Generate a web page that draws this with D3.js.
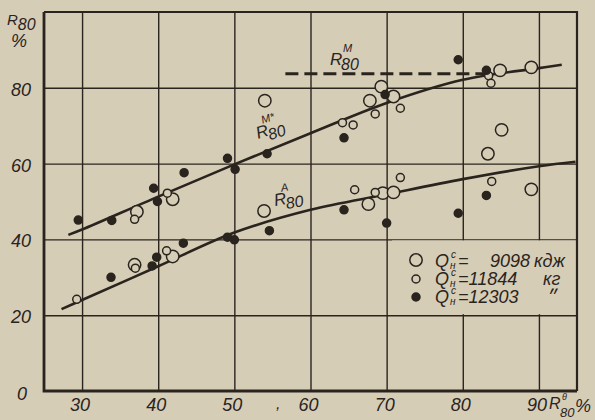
<!DOCTYPE html>
<html>
<head>
<meta charset="utf-8">
<script src="https://d3js.org/d3.v7.min.js"></script>
<style>
body { margin: 0; background: #d6cdb7; }
svg text {
	font-family: "Liberation Sans", Arial, sans-serif;
	font-style: italic;
	fill: #2a241e;
}
.grid line { stroke: #2a241e; stroke-width: 1.4; }
.grid path { display: none; }
</style>
</head>
<body>
<svg id="chart" width="595" height="420"></svg>
<script>
// R80^θ (x) vs R80 (y), read from the plate
var xTicks = [30, 40, 50, 60, 70, 80, 90],
	yTicks = [0, 20, 40, 60, 80];

// Q = 9098 (large open circles)
var bigOpenM = [[37.2,47.3],[41.9,50.6],[54.0,76.6],[67.8,76.6],[69.3,80.3],[70.9,77.7],[84.9,84.6],[89.0,85.4],[85.1,68.9],[83.3,62.6]],
	bigOpenA = [[36.9,33.3],[41.9,35.5],[53.9,47.5],[67.6,49.3],[69.5,52.2],[70.9,52.4],[89.0,53.2]];
// Q = 11844 (small open circles)
var smallOpenM = [[36.9,45.3],[41.2,52.2],[64.2,70.8],[65.6,70.2],[68.5,73.1],[71.8,74.6],[83.4,83.2],[83.7,81.2]],
	smallOpenA = [[29.3,24.2],[37.0,32.4],[41.1,37.0],[65.8,53.1],[68.5,52.4],[71.8,56.3],[83.8,55.3]];
// Q = 12303 (filled dots)
var filledM = [[29.5,45.1],[33.9,45.0],[39.4,53.5],[39.9,50.0],[43.4,57.6],[49.1,61.4],[50.1,58.5],[54.3,62.6],[64.4,66.8],[69.8,78.2],[79.4,87.4],[83.1,84.6]],
	filledA = [[33.8,30.0],[39.2,33.0],[39.8,35.3],[43.3,39.0],[49.1,40.6],[50.0,39.9],[54.6,42.3],[64.4,47.8],[70.0,44.3],[79.4,46.9],[83.1,51.6]];

// fitted curves as drawn
var curveMstar = [[28.2,41.2],[30,42.6],[40,51.3],[50,59.8],[60,68.0],[70,76.0],[80,82.1],[90,85.2],[93,86.1]],
	curveA = [[27.3,21.6],[30,24.0],[40,32.9],[50,41.8],[60,47.8],[70,51.9],[80,55.9],[90,59.3],[94.8,60.5]],
	levelM = [[56.7,83.7],[83.2,83.7]];

var legendLabels = ["=", "=11844", "=12303"],
	legendNums = ["9098", "", ""],
	legendUnits = ["кдж", "кг", "״"];

var svg = d3.select("#chart"),
	margin = {top: 12, right: 18, bottom: 29, left: 44},
	width = +svg.attr("width") - margin.left - margin.right,
	height = +svg.attr("height") - margin.top - margin.bottom;

var ink = "#2a241e", paper = "#d6cdb7";

var x = d3.scaleLinear().domain([25, 95]).range([margin.left, margin.left + width]);
var y = d3.scaleLinear().domain([0, 100]).range([margin.top + height, margin.top]);

// grid
svg.append("g")
	.attr("class", "grid")
	.attr("transform", "translate(0," + (margin.top + height) + ")")
	.call(d3.axisBottom(x).tickValues(xTicks).tickSize(-height).tickFormat(""));

svg.append("g")
	.attr("class", "grid")
	.attr("transform", "translate(" + margin.left + ",0)")
	.call(d3.axisLeft(y).tickValues(yTicks.slice(1)).tickSize(-width).tickFormat(""));

// legend patch hides the vertical grid lines
svg.append("rect")
	.attr("x", 392).attr("y", y(40) + 1)
	.attr("width", x(95) - 392 - 1).attr("height", y(20) - y(40) - 2)
	.attr("fill", paper);

// frame
svg.append("path")
	.attr("d", "M" + x(25) + "," + y(100) + "H" + x(95) + "V" + y(0))
	.attr("fill", "none").attr("stroke", ink).attr("stroke-width", 2.2);
svg.append("path")
	.attr("d", "M" + x(25) + "," + y(100) + "V" + y(0) + "H" + x(95))
	.attr("fill", "none").attr("stroke", ink).attr("stroke-width", 2.8);

// tick labels
svg.append("g").selectAll("text")
	.data(xTicks).join("text")
	.attr("x", d => x(d) - 2).attr("y", 411)
	.attr("text-anchor", "middle").attr("font-size", 18)
	.text(d => d);

svg.append("g").selectAll("text")
	.data(yTicks).join("text")
	.attr("x", d => d === 0 ? 27 : 31)
	.attr("y", d => y(d) + (d === 0 ? 9 : 8))
	.attr("text-anchor", "end").attr("font-size", 18)
	.text(d => d);

svg.append("text").attr("x", 276).attr("y", 409).attr("font-size", 16).text(",");

// axis titles
var yt = svg.append("text").attr("x", 7).attr("y", 25).attr("font-size", 15);
yt.append("tspan").text("R");
yt.append("tspan").attr("dy", 5).attr("font-size", 16).text("80");
svg.append("text").attr("x", 11).attr("y", 47).attr("font-size", 18).text("%");

var xt = svg.append("text").attr("x", 549).attr("y", 409).attr("font-size", 16);
xt.append("tspan").text("R");
xt.append("tspan").attr("x", 562).attr("dy", -9).attr("font-size", 9).text("θ");
xt.append("tspan").attr("x", 560).attr("dy", 17).attr("font-size", 13).text("80");
xt.append("tspan").attr("x", 575).attr("dy", -5).attr("font-size", 18).text("%");

// curves
var line = d3.line()
	.x(d => x(d[0]))
	.y(d => y(d[1]))
	.curve(d3.curveCatmullRom);

svg.append("path").datum(curveMstar)
	.attr("d", line).attr("fill", "none").attr("stroke", ink).attr("stroke-width", 2.6);
svg.append("path").datum(curveA)
	.attr("d", line).attr("fill", "none").attr("stroke", ink).attr("stroke-width", 2.6);
svg.append("path").datum(levelM)
	.attr("d", line).attr("fill", "none").attr("stroke", ink)
	.attr("stroke-width", 3).attr("stroke-dasharray", "13,6");

// curve labels
function rLabel(g, px, py, sup, supDx) {
	var t = g.append("text").attr("x", px).attr("y", py).attr("font-size", 17);
	t.append("tspan").text("R");
	t.append("tspan").attr("x", px + supDx).attr("dy", -13).attr("font-size", 11).text(sup);
	t.append("tspan").attr("x", px + 11).attr("dy", 18).attr("font-size", 16).text("80");
}
rLabel(svg, 330, 65, "M", 13);
rLabel(svg.append("g").attr("transform", "translate(258,139) rotate(-18)"), 0, 0, "M*", 9);
rLabel(svg.append("g").attr("transform", "translate(275,206) rotate(-10)"), 0, 0, "A", 9);

// points
function dots(data, r, filled) {
	svg.append("g").selectAll("circle")
		.data(data).join("circle")
		.attr("cx", d => x(d[0]))
		.attr("cy", d => y(d[1]))
		.attr("r", r)
		.attr("fill", filled ? ink : paper)
		.attr("stroke", ink)
		.attr("stroke-width", 1.5);
}
dots(bigOpenM, 6.2, false);
dots(bigOpenA, 6.2, false);
dots(smallOpenM, 4, false);
dots(smallOpenA, 4, false);
dots(filledM, 4, true);
dots(filledA, 4, true);

// legend
var legendRows = [
	{r: 6.2, filled: false, cy: 260, base: 267, unitX: 534},
	{r: 4, filled: false, cy: 279, base: 285, unitX: 543},
	{r: 4, filled: true, cy: 297, base: 303, unitX: 547}
];
legendRows.forEach(function(row, i) {
	svg.append("circle")
		.attr("cx", 416).attr("cy", row.cy).attr("r", row.r)
		.attr("fill", row.filled ? ink : paper)
		.attr("stroke", ink).attr("stroke-width", 1.5);
	var t = svg.append("text").attr("x", 435).attr("y", row.base).attr("font-size", 18);
	t.append("tspan").text("Q");
	t.append("tspan").attr("x", 451).attr("dy", -9).attr("font-size", 10).text("с");
	t.append("tspan").attr("x", 450).attr("dy", 11).attr("font-size", 10).text("н");
	t.append("tspan").attr("x", 458).attr("dy", -2).text(legendLabels[i]);
	if (legendNums[i]) t.append("tspan").attr("x", 490).text(legendNums[i]);
	t.append("tspan").attr("x", row.unitX).text(legendUnits[i]);
});
</script>
</body>
</html>
